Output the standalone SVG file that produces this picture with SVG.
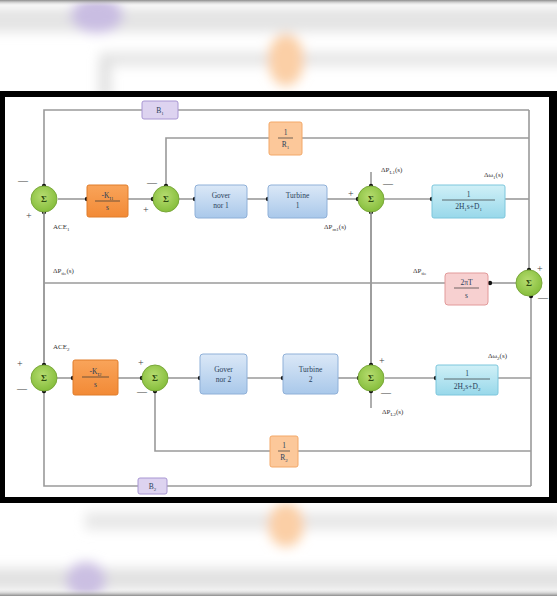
<svg xmlns="http://www.w3.org/2000/svg" width="557" height="596" viewBox="0 0 557 596">
<style>
text{font-family:"Liberation Serif","Times New Roman",serif;fill:#333;}
.lbl{font-size:7px;}
.sg{font-size:10px;fill:#444;}
.blk{font-size:7.5px;text-anchor:middle;fill:#2a3f5a;}
.sig{font-size:9px;font-weight:bold;text-anchor:middle;fill:#2d4a10;}
.ln{fill:none;stroke:#9a9a9a;stroke-width:1.6;}
.sum{fill:url(#gG);stroke:#7aa83a;stroke-width:1;}
.bl{fill:url(#gB);stroke:#8fb0d8;stroke-width:1;}
.cy{fill:url(#gC);stroke:#7cc6dc;stroke-width:1;}
.or{fill:url(#gO);stroke:#e07c2a;stroke-width:1;}
.orl{fill:#fcc89a;stroke:#f3a868;stroke-width:1;}
.pk{fill:#f7d0d0;stroke:#e29a9a;stroke-width:1;}
.pu{fill:#ddd3f0;stroke:#a896d2;stroke-width:1;}
.fr{stroke:#333;stroke-width:0.7;}
</style>
<defs>
<marker id="dot" markerWidth="6" markerHeight="6" refX="3" refY="3" markerUnits="userSpaceOnUse"><circle cx="3" cy="3" r="2.2" fill="#111"/></marker>
<radialGradient id="gG" cx="0.45" cy="0.4" r="0.6"><stop offset="0" stop-color="#b6dc70"/><stop offset="1" stop-color="#86be3c"/></radialGradient>
<linearGradient id="gB" x1="0" y1="0" x2="0" y2="1"><stop offset="0" stop-color="#dbe8f7"/><stop offset="1" stop-color="#a9c8ea"/></linearGradient>
<linearGradient id="gC" x1="0" y1="0" x2="0" y2="1"><stop offset="0" stop-color="#d0f0f7"/><stop offset="1" stop-color="#98d8ea"/></linearGradient>
<linearGradient id="gO" x1="0" y1="0" x2="0" y2="1"><stop offset="0" stop-color="#f9a45a"/><stop offset="1" stop-color="#f28a36"/></linearGradient>
<linearGradient id="gTop" x1="0" y1="0" x2="0" y2="1"><stop offset="0" stop-color="#8a8a8a"/><stop offset="1" stop-color="#f2f2f2" stop-opacity="0"/></linearGradient>
<linearGradient id="gBot" x1="0" y1="1" x2="0" y2="0"><stop offset="0" stop-color="#8a8a8a"/><stop offset="1" stop-color="#f2f2f2" stop-opacity="0"/></linearGradient>
<filter id="blur" x="-50%" y="-50%" width="200%" height="200%"><feGaussianBlur stdDeviation="6"/></filter>
</defs>

<!-- blurred background -->
<g id="background">
<rect x="0" y="0" width="557" height="596" fill="#ffffff"/>
<g filter="url(#blur)">
<rect x="-20" y="8" width="600" height="24" fill="#e4e4e4"/>
<rect x="100" y="52" width="480" height="14" fill="#e6e6e6"/>
<rect x="99" y="58" width="12" height="40" fill="#e0e0e0"/>
<ellipse cx="97" cy="15" rx="26" ry="18" fill="#c9bde2"/>
<ellipse cx="286" cy="60" rx="18" ry="26" fill="#fbcfa6"/>
<rect x="85" y="512" width="480" height="18" fill="#e8e8e8"/>
<ellipse cx="286" cy="525" rx="18" ry="22" fill="#fbcfa6"/>
<rect x="-20" y="568" width="600" height="22" fill="#e2e2e2"/>
<ellipse cx="86" cy="580" rx="20" ry="18" fill="#cbbfe2"/>
</g>
<rect x="0" y="0" width="557" height="6" fill="url(#gTop)"/>
<rect x="0" y="589" width="557" height="7" fill="url(#gBot)"/>
</g>

<!-- frame -->
<g id="frame">
<rect x="0" y="91" width="557" height="412" fill="#000"/>
<rect x="5" y="97" width="544" height="400" fill="#fff"/>
</g>

<!-- connectors -->
<g id="connectors">
<path class="ln" d="M58,199 H87" marker-end="url(#dot)"/>
<path class="ln" d="M128,199 H153" marker-end="url(#dot)"/>
<path class="ln" d="M179,199 H195" marker-end="url(#dot)"/>
<path class="ln" d="M247,199 H268" marker-end="url(#dot)"/>
<path class="ln" d="M327,199 H358" marker-end="url(#dot)"/>
<path class="ln" d="M384,199 H432" marker-end="url(#dot)"/>
<path class="ln" d="M505,199 H529"/>
<path class="ln" d="M529,110 V270" marker-end="url(#dot)"/>
<path class="ln" d="M529,110 H178"/>
<path class="ln" d="M142,110 H44 V186" marker-end="url(#dot)"/>
<path class="ln" d="M529,138 H302"/>
<path class="ln" d="M269,138 H166 V186" marker-end="url(#dot)"/>
<path class="ln" d="M371,172 V186" marker-end="url(#dot)"/>
<path class="ln" d="M371,365 V212" marker-end="url(#dot)"/>
<path class="ln" d="M371,212 V365" marker-end="url(#dot)"/>
<path class="ln" d="M516,283 H490" marker-end="url(#dot)"/>
<path class="ln" d="M445,283 H44"/>
<path class="ln" d="M44,362 V212" marker-end="url(#dot)"/>
<path class="ln" d="M44,212 V365" marker-end="url(#dot)"/>
<path class="ln" d="M57,378 H73" marker-end="url(#dot)"/>
<path class="ln" d="M118,378 H142" marker-end="url(#dot)"/>
<path class="ln" d="M168,378 H200" marker-end="url(#dot)"/>
<path class="ln" d="M247,378 H283" marker-end="url(#dot)"/>
<path class="ln" d="M338,378 H359" marker-end="url(#dot)"/>
<path class="ln" d="M385,378 H436" marker-end="url(#dot)"/>
<path class="ln" d="M498,378 H531"/>
<path class="ln" d="M531,486 V296" marker-end="url(#dot)"/>
<path class="ln" d="M531,451 H298"/>
<path class="ln" d="M270,451 H155 V391" marker-end="url(#dot)"/>
<path class="ln" d="M531,486 H167"/>
<path class="ln" d="M138,486 H44 V391" marker-end="url(#dot)"/>
<path class="ln" d="M371,408 V391" marker-end="url(#dot)"/>
</g>

<!-- nodes -->
<g id="sum1"><circle class="sum" cx="44" cy="199" r="13"/><text class="sig" x="44" y="202">Σ</text></g>
<g id="ki1"><rect class="or" x="87" y="185" width="41" height="32" rx="2"/><text class="blk" x="107.5" y="198" fill="#3a2a10">-K<tspan font-size="5" dy="1.5">I1</tspan></text><line class="fr" x1="95" y1="201" x2="120" y2="201"/><text class="blk" x="107.5" y="210">s</text></g>
<g id="sum2"><circle class="sum" cx="166" cy="199" r="13"/><text class="sig" x="166" y="202">Σ</text></g>
<g id="gov1"><rect class="bl" x="195" y="185" width="52" height="33" rx="3"/><text class="blk" x="221" y="198">Gover</text><text class="blk" x="221" y="208">nor 1</text></g>
<g id="turb1"><rect class="bl" x="268" y="185" width="59" height="33" rx="3"/><text class="blk" x="297.5" y="198">Turbine</text><text class="blk" x="297.5" y="208">1</text></g>
<g id="sum3"><circle class="sum" cx="371" cy="199" r="13"/><text class="sig" x="371" y="202">Σ</text></g>
<g id="g1"><rect class="cy" x="432" y="185" width="73" height="33" rx="2"/><text class="blk" x="468.5" y="197">1</text><line class="fr" x1="442" y1="200" x2="495" y2="200"/><text class="blk" x="468.5" y="209">2H<tspan font-size="5" dy="1.5">1</tspan><tspan dy="-1.5">s+D</tspan><tspan font-size="5" dy="1.5">1</tspan></text></g>
<g id="r1"><rect class="orl" x="269" y="122" width="33" height="33" rx="2"/><text class="blk" x="285.5" y="135">1</text><line class="fr" x1="278" y1="138" x2="293" y2="138"/><text class="blk" x="285.5" y="147">R<tspan font-size="5" dy="1.5">1</tspan></text></g>
<g id="b1"><rect class="pu" x="142" y="101" width="36" height="18" rx="2"/><text class="blk" x="160" y="113">B<tspan font-size="5" dy="1.5">1</tspan></text></g>
<g id="tie"><rect class="pk" x="445" y="273" width="43" height="32" rx="3"/><text class="blk" x="466.5" y="285">2πT</text><line class="fr" x1="454" y1="288" x2="479" y2="288"/><text class="blk" x="466.5" y="298">s</text></g>
<g id="sum7"><circle class="sum" cx="529" cy="283" r="13"/><text class="sig" x="529" y="286">Σ</text></g>
<g id="sum4"><circle class="sum" cx="44" cy="378" r="13"/><text class="sig" x="44" y="381">Σ</text></g>
<g id="ki2"><rect class="or" x="73" y="360" width="45" height="35" rx="2"/><text class="blk" x="95.5" y="374" fill="#3a2a10">-K<tspan font-size="5" dy="1.5">I2</tspan></text><line class="fr" x1="82" y1="377" x2="109" y2="377"/><text class="blk" x="95.5" y="387">s</text></g>
<g id="sum5"><circle class="sum" cx="155" cy="378" r="13"/><text class="sig" x="155" y="381">Σ</text></g>
<g id="gov2"><rect class="bl" x="200" y="354" width="47" height="40" rx="3"/><text class="blk" x="223.5" y="372">Gover</text><text class="blk" x="223.5" y="382">nor 2</text></g>
<g id="turb2"><rect class="bl" x="283" y="354" width="55" height="40" rx="3"/><text class="blk" x="310.5" y="372">Turbine</text><text class="blk" x="310.5" y="382">2</text></g>
<g id="sum6"><circle class="sum" cx="371" cy="378" r="13"/><text class="sig" x="371" y="381">Σ</text></g>
<g id="g2"><rect class="cy" x="436" y="365" width="62" height="30" rx="2"/><text class="blk" x="467" y="376">1</text><line class="fr" x1="444" y1="379" x2="490" y2="379"/><text class="blk" x="467" y="389">2H<tspan font-size="5" dy="1.5">2</tspan><tspan dy="-1.5">s+D</tspan><tspan font-size="5" dy="1.5">2</tspan></text></g>
<g id="r2"><rect class="orl" x="270" y="436" width="28" height="31" rx="2"/><text class="blk" x="284" y="448">1</text><line class="fr" x1="278" y1="451" x2="290" y2="451"/><text class="blk" x="284" y="460">R<tspan font-size="5" dy="1.5">2</tspan></text></g>
<g id="b2"><rect class="pu" x="138" y="478" width="29" height="16" rx="2"/><text class="blk" x="152.5" y="489">B<tspan font-size="5" dy="1.5">2</tspan></text></g>

<!-- labels and signs -->
<g id="labels">
<text class="sg" x="18" y="184">—</text>
<text class="sg" x="26" y="219">+</text>
<text class="lbl" x="53" y="229">ACE<tspan font-size="5" dy="1.5">1</tspan></text>
<text class="sg" x="147" y="186">—</text>
<text class="sg" x="143" y="213">+</text>
<text class="lbl" x="381" y="172">ΔP<tspan font-size="5" dy="1.5">L1</tspan><tspan dy="-1.5">(s)</tspan></text>
<text class="sg" x="383" y="187">—</text>
<text class="sg" x="348" y="197">+</text>
<text class="lbl" x="324" y="229">ΔP<tspan font-size="5" dy="1.5">m1</tspan><tspan dy="-1.5">(s)</tspan></text>
<text class="lbl" x="484" y="177">Δω<tspan font-size="5" dy="1.5">1</tspan><tspan dy="-1.5">(s)</tspan></text>
<text class="lbl" x="53" y="273">ΔP<tspan font-size="5" dy="1.5">tie</tspan><tspan dy="-1.5">(s)</tspan></text>
<text class="lbl" x="413" y="273">ΔP<tspan font-size="5" dy="1.5">tie</tspan></text>
<text class="sg" x="537" y="272">+</text>
<text class="sg" x="538" y="301">—</text>
<text class="lbl" x="53" y="349">ACE<tspan font-size="5" dy="1.5">2</tspan></text>
<text class="sg" x="17" y="367">+</text>
<text class="sg" x="17" y="392">—</text>
<text class="sg" x="138" y="366">+</text>
<text class="sg" x="137" y="395">—</text>
<text class="sg" x="379" y="364">+</text>
<text class="sg" x="381" y="396">—</text>
<text class="lbl" x="382" y="414">ΔP<tspan font-size="5" dy="1.5">L2</tspan><tspan dy="-1.5">(s)</tspan></text>
<text class="lbl" x="488" y="358">Δω<tspan font-size="5" dy="1.5">2</tspan><tspan dy="-1.5">(s)</tspan></text>
</g>
</svg>
